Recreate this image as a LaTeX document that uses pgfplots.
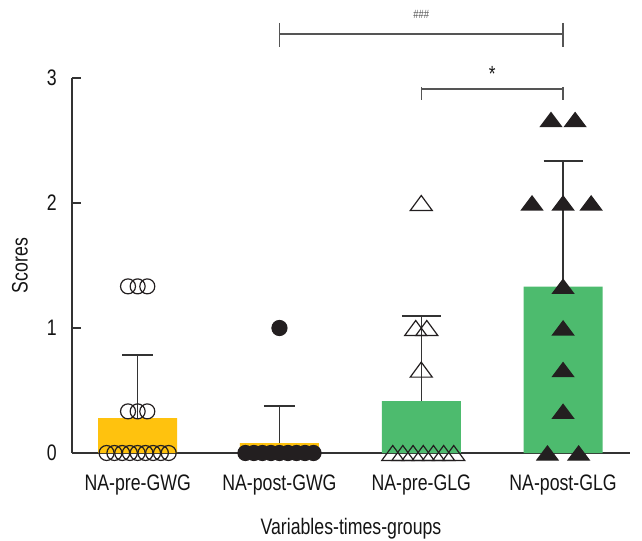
\documentclass[border=0pt]{standalone}
\usepackage{fontspec}
\setmainfont{Liberation Sans}[FakeStretch=0.79]
\usepackage{pgfplots}
\usepackage{pgfplotstable}
\pgfplotsset{compat=1.18}

\definecolor{baryellow}{HTML}{FFC20E}
\definecolor{bargreen}{HTML}{4DBB6E}
\definecolor{axisgray}{HTML}{333333}
\definecolor{brgray}{HTML}{555555}
\definecolor{markblack}{HTML}{231F20}

% flat triangles, centred on the point
\pgfdeclareplotmark{otri}{%
  \pgfpathmoveto{\pgfqpoint{0bp}{7.5bp}}%
  \pgfpathlineto{\pgfqpoint{-11bp}{-7.5bp}}%
  \pgfpathlineto{\pgfqpoint{11bp}{-7.5bp}}%
  \pgfpathclose\pgfusepathqstroke}
\pgfdeclareplotmark{ftri}{%
  \pgfpathmoveto{\pgfqpoint{0bp}{7bp}}%
  \pgfpathlineto{\pgfqpoint{-10.5bp}{-7bp}}%
  \pgfpathlineto{\pgfqpoint{10.5bp}{-7bp}}%
  \pgfpathclose\pgfusepathqfillstroke}

% individual scores, x jittered around the category position
\pgfplotstableread{
x y
-0.219 0
-0.164 0
-0.109 0
-0.055 0
0 0
0.055 0
0.109 0
0.164 0
0.219 0
-0.068 0.333
0 0.333
0.068 0.333
-0.068 1.333
0 1.333
0.068 1.333
}\pregwg

\pgfplotstableread{
x y
0.76 0
0.82 0
0.88 0
0.94 0
1.00 0
1.06 0
1.12 0
1.18 0
1.24 0
1.00 1.0
}\postgwg

\pgfplotstableread{
x y
1.799 0
1.870 0
1.942 0
2.014 0
2.086 0
2.158 0
2.229 0
2.0 0.667
1.961 1.0
2.039 1.0
2.0 2.0
}\preglg

\pgfplotstableread{
x y
2.89 0
3.11 0
3.0 0.333
3.0 0.667
3.0 1.0
3.0 1.333
2.781 2.0
3.0 2.0
3.198 2.0
2.915 2.667
3.085 2.667
}\postglg

\begin{document}
\begin{tikzpicture}
\useasboundingbox (-72bp,-88bp) rectangle (570bp,453bp);
\begin{axis}[
  at={(0,0)}, anchor=south west,
  scale only axis, width=558bp, height=375bp,
  xmin=-0.463, xmax=3.472, ymin=0, ymax=3,
  axis x line*=bottom, axis y line*=left,
  axis line style={line width=1.2bp, axisgray, -},
  xtick={0,1,2,3},
  xticklabels={NA-pre-GWG, NA-post-GWG, NA-pre-GLG, NA-post-GLG},
  xtick style={draw=none},
  ytick={0,1,2,3},
  ytick style={line width=1.2bp, axisgray},
  tick align=inside,
  major tick length=9bp,
  tick label style={font=\fontsize{22.5}{26}\selectfont, inner sep=0pt, text=black!92},
  xticklabel style={yshift=-22bp},
  yticklabel style={xshift=-15bp},
  /pgf/number format/assume math mode=true,
  clip=false,
]
% bars with upper SD
\addplot[ybar, bar width=0.557, bar shift=0pt, fill=baryellow, draw=none,
  error bars/.cd, y dir=plus, y explicit, error mark=-,
  error bar style={line width=1.2bp, axisgray},
  error mark options={rotate=90, mark size=15.5bp, line width=1.2bp, axisgray}]
  coordinates {(0,0.28) +- (0,0.504) (1,0.08) +- (0,0.296)};
\addplot[ybar, bar width=0.557, bar shift=0pt, fill=bargreen, draw=none,
  error bars/.cd, y dir=plus, y explicit, error mark=-,
  error bar style={line width=1.2bp, axisgray},
  error mark options={rotate=90, mark size=19.5bp, line width=1.2bp, axisgray}]
  coordinates {(2,0.416) +- (0,0.68) (3,1.33) +- (0,1.006)};

% points
\addplot[only marks, mark=o, mark size=7.5bp, line width=1.2bp, markblack] table[x=x,y=y] {\pregwg};
\addplot[only marks, mark=*, mark size=7.5bp, line width=1.2bp, markblack, fill=markblack] table[x=x,y=y] {\postgwg};
\addplot[only marks, mark=otri, line width=1.2bp, markblack] table[x=x,y=y] {\preglg};
\addplot[only marks, mark=ftri, line width=1.2bp, markblack, fill=markblack] table[x=x,y=y] {\postglg};

% significance brackets
\draw[brgray, line width=1.2bp] (axis cs:1,3.44) -- (axis cs:1,3.248);
\draw[brgray, line width=1.2bp] (axis cs:1,3.352) -- (axis cs:3,3.352);
\draw[brgray, line width=1.2bp] (axis cs:3,3.44) -- (axis cs:3,3.248);
\node[anchor=base, inner sep=0pt, font=\fontsize{12}{13}\selectfont, text=brgray] at (axis cs:2,3.475) {\#\#\#};
\draw[brgray, line width=1.2bp] (axis cs:2,2.928) -- (axis cs:2,2.824);
\draw[brgray, line width=1.2bp] (axis cs:2,2.912) -- (axis cs:3,2.912);
\draw[brgray, line width=1.2bp] (axis cs:3,2.928) -- (axis cs:3,2.824);
\node[anchor=base, inner sep=0pt, font=\fontsize{22}{24}\selectfont, text=black!90] at (axis cs:2.5,2.975) {*};

% axis titles
\node[anchor=north, inner sep=0pt, font=\fontsize{22.5}{26}\selectfont, text=black!92]
  at ([yshift=-65bp]rel axis cs:0.5,0) {Variables-times-groups};
\node[rotate=90, anchor=south, inner sep=0pt, font=\fontsize{22.5}{26}\selectfont, text=black!92]
  at ([xshift=-44bp]rel axis cs:0,0.5) {Scores};
\end{axis}
\end{tikzpicture}
\end{document}
